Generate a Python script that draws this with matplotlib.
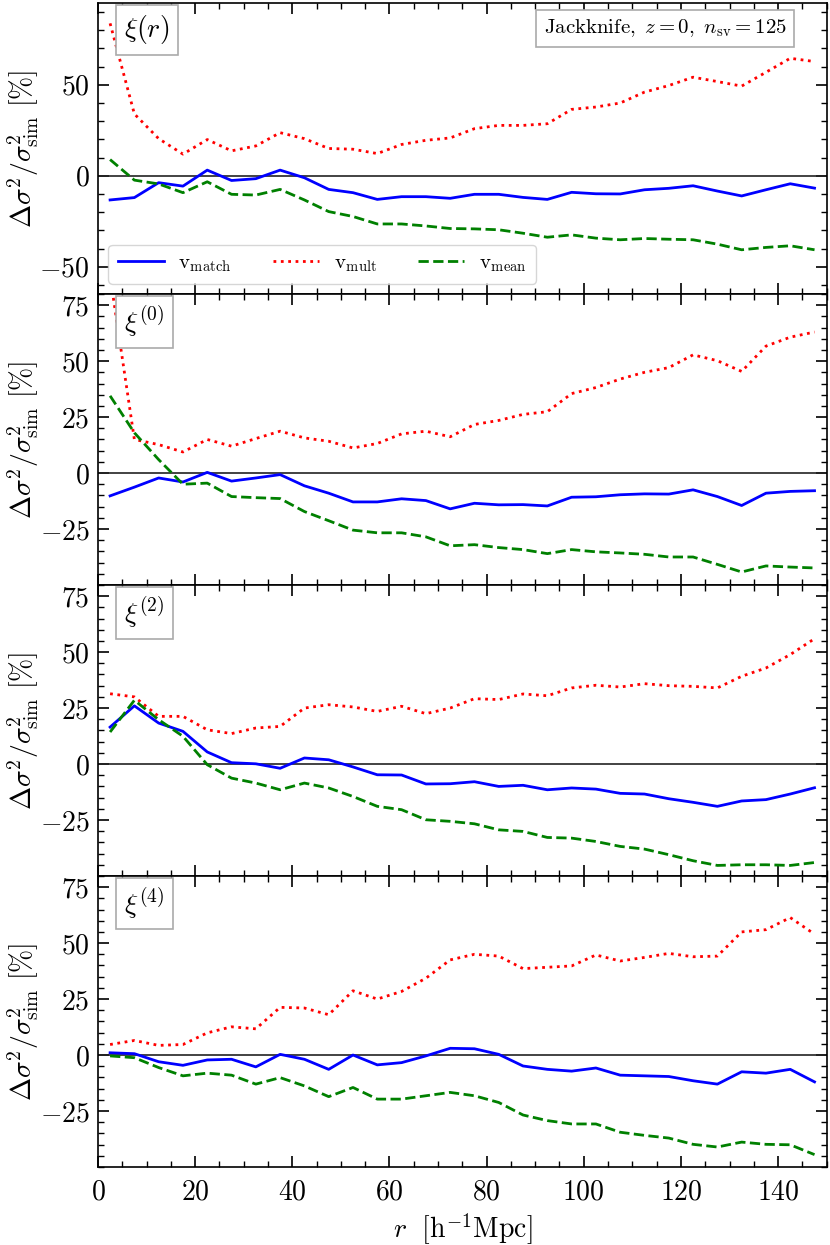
import matplotlib
matplotlib.use("Agg")
import matplotlib.pyplot as plt
import numpy as np
from matplotlib.ticker import MultipleLocator, FuncFormatter

plt.rcParams['mathtext.fontset'] = 'cm'
plt.rcParams['font.family'] = ['serif']
plt.rcParams['font.serif'] = ['cmr10', 'DejaVu Serif']
plt.rcParams['axes.unicode_minus'] = False

# separaciones r [h^-1 Mpc]
r = np.arange(2.5, 150, 5.0)

# xi(r)
match_xi = [-13.3, -12, -3.8, -5.7, 3.1, -2.6, -1.6, 3.1, -1.1, -7.5,
            -9.3, -13, -11.5, -11.5, -12.4, -10.2, -10.2, -11.9, -13, -9.1,
            -9.9, -10, -7.7, -6.9, -5.5, -8.4, -11.1, -7.7, -4.4, -6.8]
mult_xi = [83.8, 34, 20.4, 11.9, 19.9, 13.7, 16.4, 23.7, 20.4, 15,
           14.6, 12.2, 17.2, 19.5, 20.8, 25.9, 27.7, 27.7, 28.6, 36.5,
           37.8, 40, 46, 49.6, 54.2, 51.8, 49.3, 56.9, 64.6, 62.8]
mean_xi = [8.9, -2.4, -4.5, -9.3, -3.3, -10.2, -10.6, -7.5, -13.3, -19.7,
           -22.4, -26.5, -26.5, -27.6, -29, -29.2, -29.7, -31.6, -33.8, -32.5,
           -34.3, -35.2, -34.5, -34.9, -35.2, -37.6, -40.7, -39.4, -38.5, -40.7]

# monopolo
match_0 = [-10.2, -6.3, -2.2, -4, 0.3, -3.6, -2.2, -0.7, -5.7, -9,
           -12.9, -12.9, -11.5, -12.3, -16, -13.5, -14.2, -14.1, -14.7, -10.8,
           -10.6, -9.7, -9.3, -9.4, -7.5, -10.5, -14.5, -9, -8.2, -7.9]
mult_0 = [88, 15, 12.7, 9.4, 15, 12, 15.4, 18.7, 15.7, 14.2,
          11.2, 13.2, 17.5, 18.7, 16.2, 21.7, 23.5, 26.2, 27.4, 35.5,
          38.2, 42, 45, 47.1, 52.8, 50.2, 45.4, 56.7, 60.7, 63]
mean_0 = [34.5, 18, 6, -5, -4.5, -10.5, -11, -11.4, -17.2, -21.3,
          -25.5, -26.7, -26.7, -28.5, -32.5, -32, -33.3, -34.2, -36, -34.2,
          -35.2, -35.7, -36.3, -37.5, -37.5, -40.8, -44.2, -41.5, -42, -42.4]

# cuadrupolo
match_2 = [16.5, 26, 18.3, 14.6, 5.4, 0.6, 0.1, -1.9, 2.7, 1.9,
           -1.3, -4.8, -4.9, -8.9, -8.8, -7.9, -10, -9.5, -11.5, -10.7,
           -11.2, -13.1, -13.4, -15.5, -17.1, -18.9, -16.5, -15.9, -13.4, -10.6]
mult_2 = [31.4, 30, 21.3, 21.3, 15.3, 13.6, 16.1, 16.8, 25, 26.5,
          25.5, 23.5, 25.8, 22.5, 25, 29.2, 28.8, 31.3, 30.5, 34,
          35.2, 34.4, 35.9, 35, 34.7, 34, 39.2, 42.9, 48.9, 56]
mean_2 = [14.3, 28.5, 19.8, 12.4, -0.3, -6.3, -8.5, -11.5, -8.5, -10.7,
          -14.5, -18.9, -20.4, -24.9, -25.6, -26.7, -29.4, -30.1, -32.8, -33.1,
          -34.6, -36.8, -38, -40.5, -43.2, -45.3, -45, -45, -45.3, -44]

# hexadecapolo
match_4 = [1, 0.6, -3, -4.6, -2.2, -1.9, -5.3, 0.3, -1.9, -6.4,
           0, -4.4, -3.4, -0.4, 3, 2.8, 0.3, -4.9, -6.4, -7.2,
           -5.8, -9, -9.3, -9.6, -11.5, -13, -7.5, -8.1, -6.4, -12]
mult_4 = [4.7, 6.5, 4.3, 4.7, 9.9, 12.6, 11.7, 21.3, 21, 18,
          28.7, 25, 28.4, 34.3, 42.5, 45, 44.2, 38.6, 39.2, 39.8,
          44.7, 42, 43.6, 45.4, 43.9, 44.2, 55, 56, 61.4, 54]
mean_4 = [-0.4, -1.2, -5.6, -9.3, -8.1, -9, -13, -10.1, -13.8, -18.6,
          -14.5, -19.7, -19.7, -18.2, -16.7, -18.2, -21.2, -26.8, -29.3, -30.8,
          -30.8, -34.5, -35.9, -37.1, -39.9, -41.1, -38.9, -39.9, -40.1, -44.5]

paneles = [r'$\xi(r)$', r'$\xi^{(0)}$', r'$\xi^{(2)}$', r'$\xi^{(4)}$']
datos = [(match_xi, mult_xi, mean_xi), (match_0, mult_0, mean_0),
         (match_2, mult_2, mean_2), (match_4, mult_4, mean_4)]

fig, axs = plt.subplots(4, 1, figsize=(8.3, 12.45), dpi=100, sharex=True)
fig.subplots_adjust(left=0.118, right=0.996, top=0.9976, bottom=0.0627, hspace=0)

fmt = FuncFormatter(lambda v, p: r'$%d$' % v)

for i, ax in enumerate(axs):
    m, mu, me = datos[i]
    ax.axhline(0, color='#222222', lw=1.2)
    ax.plot(r, m, color='blue', ls='-', lw=2, label=r'$\mathrm{v_{match}}$')
    ax.plot(r, mu, color='red', ls=':', lw=2, label=r'$\mathrm{v_{mult}}$')
    ax.plot(r, me, color='green', ls='--', lw=2, label=r'$\mathrm{v_{mean}}$')
    ax.set_xlim(0, 150)
    if i == 0:
        ax.set_ylim(-65, 95)
        ax.set_yticks([-50, 0, 50])
        ax.yaxis.set_minor_locator(MultipleLocator(10))
    else:
        ax.set_ylim(-50, 80)
        ax.set_yticks([-25, 0, 25, 50, 75])
        ax.yaxis.set_minor_locator(MultipleLocator(5))
    ax.xaxis.set_major_locator(MultipleLocator(20))
    ax.xaxis.set_minor_locator(MultipleLocator(5))
    ax.yaxis.set_major_formatter(fmt)
    ax.xaxis.set_major_formatter(fmt)
    ax.tick_params(which='both', direction='in', top=True, right=True, labelsize=20)
    ax.tick_params(which='major', length=8, width=1.2)
    ax.tick_params(which='minor', length=4, width=1)
    ax.tick_params(axis='y', pad=6)
    ax.tick_params(axis='x', pad=9)
    for s in ax.spines.values():
        s.set_linewidth(1.2)
    ax.set_ylabel(r'$\Delta\sigma^2/\sigma^2_{\rm sim}\ [\%]$', fontsize=20)
    ax.yaxis.set_label_coords(-0.078, 0.5)
    ax.text(0.036, 0.965, paneles[i], transform=ax.transAxes, fontsize=20,
            ha='left', va='top',
            bbox=dict(boxstyle='square,pad=0.3', fc='white', ec='#aaaaaa', lw=1.2))

axs[0].text(0.945, 0.95, r'$\mathrm{Jackknife},\ z=0,\ n_{\rm sv}=125$',
            transform=axs[0].transAxes, fontsize=15, ha='right', va='top',
            bbox=dict(boxstyle='square,pad=0.35', fc='white', ec='#aaaaaa', lw=1.2))
axs[0].legend(loc='lower left', ncol=3, fontsize=15, handlelength=2.2,
              handletextpad=0.7, columnspacing=2.0, borderaxespad=0.5,
              fancybox=True, edgecolor='#cccccc', borderpad=0.45)

axs[-1].set_xlabel(r'$r\ \ [\mathrm{h^{-1}Mpc}]$', fontsize=20)

plt.savefig('out.png', dpi=100)
